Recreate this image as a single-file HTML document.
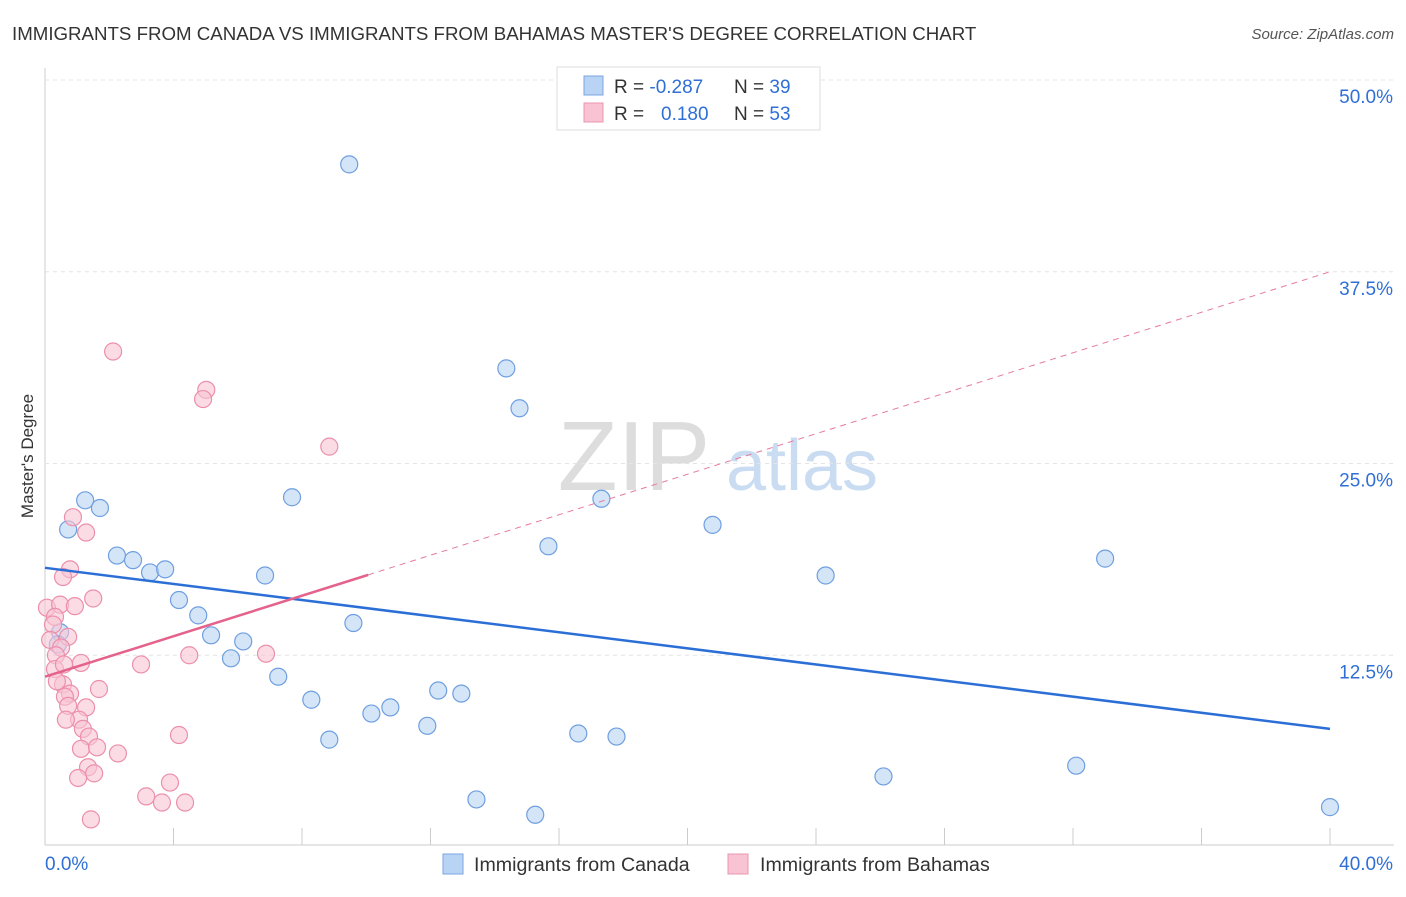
<!DOCTYPE html>
<html><head><meta charset="utf-8"><style>
body{margin:0;background:#fff;font-family:"Liberation Sans",sans-serif;}
svg text{font-family:"Liberation Sans",sans-serif;}
</style></head><body>
<svg id="c" width="1406" height="892">
<text x="12" y="40" font-size="18.7" fill="#333">IMMIGRANTS FROM CANADA VS IMMIGRANTS FROM BAHAMAS MASTER'S DEGREE CORRELATION CHART</text>
<text x="1394" y="39" font-size="15" fill="#555" font-style="italic" text-anchor="end">Source: ZipAtlas.com</text>
<text x="33" y="456" font-size="17" fill="#333" text-anchor="middle" transform="rotate(-90 33 456)">Master's Degree</text>
<g><text x="634" y="490" font-size="98" fill="#ddd" font-family="Liberation Serif" text-anchor="middle">ZIP</text><text x="802" y="490" font-size="72" fill="#c9dcf2" text-anchor="middle">atlas</text></g>
<g id="grid"></g><g id="marks"></g>
<g>
<rect x="557" y="67" width="263" height="63" fill="#fff" stroke="#ddd"/>
<rect x="584" y="76" width="19" height="19" fill="#b8d3f4" stroke="#7aa6e0"/>
<rect x="584" y="103" width="19" height="19" fill="#f8c4d3" stroke="#ec94ae"/>
<text x="614" y="93" font-size="19" fill="#333">R = <tspan fill="#2f6fd6">-0.287</tspan></text>
<text x="734" y="93" font-size="19" fill="#333">N = <tspan fill="#2f6fd6">39</tspan></text>
<text x="614" y="120" font-size="19" fill="#333">R = <tspan fill="#2f6fd6" x="661">0.180</tspan></text>
<text x="734" y="120" font-size="19" fill="#333">N = <tspan fill="#2f6fd6">53</tspan></text>
</g>
<g>
<rect x="443" y="854" width="20" height="20" fill="#b8d3f4" stroke="#7aa6e0"/>
<text x="474" y="871" font-size="19.6" fill="#333">Immigrants from Canada</text>
<rect x="728" y="854" width="20" height="20" fill="#f8c4d3" stroke="#ec94ae"/>
<text x="760" y="871" font-size="19.6" fill="#333">Immigrants from Bahamas</text>
</g>
<text x="45" y="870" font-size="19" fill="#2f6fd6">0.0%</text>
<text x="1393" y="870" font-size="19" fill="#2f6fd6" text-anchor="end">40.0%</text>
</svg>
<script>
const yTicks=[12.5,25,37.5,50];
const yTickLabels=["12.5%","25.0%","37.5%","50.0%"];
const xTicks=[0,4,8,12,16,20,24,28,32,36,40];
const canadaX=[9.47,14.36,14.77,17.32,20.78,15.67,24.3,33.0,7.69,1.25,1.71,0.72,2.24,2.74,3.27,3.74,6.85,4.17,4.77,9.6,5.17,6.17,5.79,0.47,0.4,7.26,8.29,12.24,12.96,10.75,10.16,11.9,8.85,16.6,17.79,26.1,32.1,13.43,15.26,40];
const canadaY=[44.5,31.2,28.6,22.7,21.0,19.6,17.7,18.8,22.8,22.6,22.1,20.7,19.0,18.7,17.9,18.1,17.7,16.1,15.1,14.6,13.8,13.4,12.3,14.0,13.2,11.1,9.6,10.2,10.0,9.1,8.7,7.9,7.0,7.4,7.2,4.6,5.3,3.1,2.1,2.6];
const bahamasX=[2.12,5.02,4.92,8.85,0.87,1.28,0.78,0.56,1.5,0.06,0.47,0.93,0.31,0.25,0.72,0.16,0.5,0.34,1.12,2.99,4.49,6.88,0.31,0.59,0.56,0.37,0.78,1.68,0.62,1.28,0.72,1.06,0.65,1.18,1.37,4.17,1.12,1.62,2.27,1.34,1.53,1.03,3.89,3.15,3.64,4.36,1.43];
const bahamasY=[32.3,29.8,29.2,26.1,21.5,20.5,18.1,17.6,16.2,15.6,15.8,15.7,15.0,14.5,13.7,13.5,13.0,12.5,12.0,11.9,12.5,12.6,11.6,11.9,10.6,10.8,10.0,10.3,9.8,9.1,9.2,8.3,8.3,7.7,7.2,7.3,6.4,6.5,6.1,5.2,4.8,4.5,4.2,3.3,2.9,2.9,1.8];
const canadaTrend=[18.2,7.7];
const bahamasTrend=[11.1,37.5];
const xs=v=>45+v*32.125, ys=v=>847-v*15.34;
const NS="http://www.w3.org/2000/svg";
function mk(p,t,a){const e=document.createElementNS(NS,t);for(const k in a)e.setAttribute(k,a[k]);p.appendChild(e);return e;}
const g=document.getElementById('grid'), m=document.getElementById('marks');
let ax=mk(g,'line',{x1:45,y1:68,x2:45,y2:845,stroke:'#ccc'});


let bx=mk(g,'line',{x1:45,y1:845,x2:1394,y2:845,stroke:'#ccc'});


yTicks.forEach((t,i)=>{
 const l=mk(g,'line',{x1:45,x2:1394,y1:ys(t),y2:ys(t),stroke:'#e4e4e4','stroke-dasharray':'4,4'});
 
 
 const tx=mk(g,'text',{x:1393,y:ys(t)+23,'font-size':19,fill:'#2f6fd6','text-anchor':'end'});
 tx.textContent=yTickLabels[i];
 
 
});
xTicks.forEach(t=>{
 const l=mk(g,'line',{x1:xs(t),x2:xs(t),y1:828,y2:845,stroke:'#ccc'});
 
 
});
function pts(X,Y,f,s,n){X.forEach((x,i)=>{const c=mk(m,'circle',{cx:xs(x),cy:ys(Y[i]),r:8.5,fill:f,stroke:s,'stroke-width':1.2,'fill-opacity':0.6});
 
 });}
pts(canadaX,canadaY,'#b8d3f4','#6f9fe0','canada-point');
pts(bahamasX,bahamasY,'#f8c4d3','#ec8fab','bahamas-point');
let tl=mk(m,'line',{x1:xs(0),y1:ys(canadaTrend[0]),x2:xs(40),y2:ys(canadaTrend[1]),stroke:'#2b6fd6','stroke-width':2.5});


const bAt=v=>bahamasTrend[0]+(bahamasTrend[1]-bahamasTrend[0])*v/40;
let pd=mk(m,'line',{x1:xs(10.06),y1:ys(bAt(10.06)),x2:xs(40),y2:ys(bAt(40)),stroke:'#e77b9d','stroke-width':1,'stroke-dasharray':'6,5'});


let ps=mk(m,'line',{x1:xs(0),y1:ys(bAt(0)),x2:xs(10.06),y2:ys(bAt(10.06)),stroke:'#e4628b','stroke-width':2.5});


</script>
</body></html>
